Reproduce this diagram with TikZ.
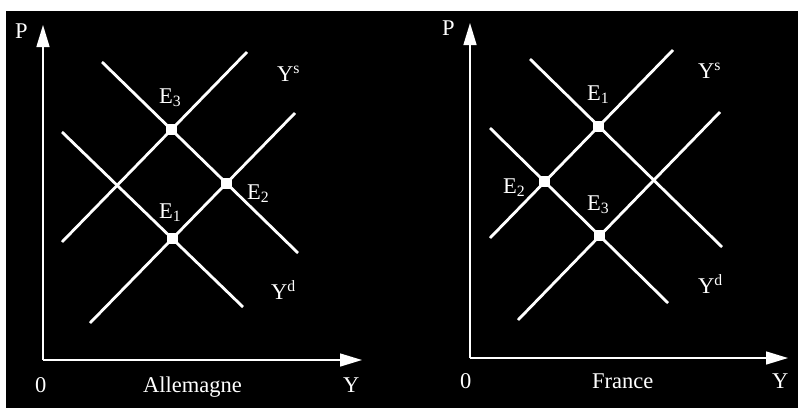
\documentclass[tikz,border=0pt]{standalone}
\usepackage{fontspec}
\setmainfont{Liberation Serif}
\usetikzlibrary{arrows.meta, intersections}

\begin{document}
\begin{tikzpicture}[
    x=1pt, y=-1pt,
    axis/.style={draw=white, line width=1.5pt, -{Triangle[length=22pt, width=13pt]}},
    curve/.style={draw=white, line width=2.8pt},
    eqpoint/.style={fill=white, rectangle, minimum size=11pt, inner sep=0pt},
    lbl/.style={text=white, font=\fontsize{22.5}{26}\selectfont, inner sep=0pt, anchor=base west}
]
\useasboundingbox (0,0) rectangle (798,408);
\fill[white] (0,0) rectangle (798,408);
\fill[black] (6,11) rectangle (798,408);

% --- Left panel: Allemagne
\coordinate (oA) at (43,360);
\coordinate (pA) at (43,25);
\coordinate (yA) at (362,360);
\draw [axis] (oA) -- (pA);
\draw [axis] (oA) -- (yA);

\draw [curve, name path=sloA] (90,323) -- (295,113);
\draw [curve, name path=shiA] (62,242) -- (247,52);
\draw [curve, name path=dloA] (62,132) -- (243,307);
\draw [curve, name path=dhiA] (102,62) -- (298,253);

\path [name intersections={of=sloA and dloA, by=e1A}];
\path [name intersections={of=sloA and dhiA, by=e2A}];
\path [name intersections={of=shiA and dhiA, by=e3A}];
\node (E1A) [eqpoint] at (e1A) {};
\node (E2A) [eqpoint] at (e2A) {};
\node (E3A) [eqpoint] at (e3A) {};

\node (lE3A) [lbl] at (159,103) {E\textsubscript{3}};
\node (lE2A) [lbl] at (247,199) {E\textsubscript{2}};
\node (lE1A) [lbl] at (159,218) {E\textsubscript{1}};
\node (lsA)  [lbl] at (277,81)  {Y\textsuperscript{s}};
\node (ldA)  [lbl] at (271,299) {Y\textsuperscript{d}};
\node (lpA)  [lbl] at (15,38)   {P};
\node (l0A)  [lbl] at (35,392)  {0};
\node (nameA)[lbl] at (143,392) {Allemagne};
\node (lyA)  [lbl] at (343,392) {Y};

% --- Right panel: France
\coordinate (oF) at (470,358);
\coordinate (pF) at (470,23);
\coordinate (yF) at (788,358);
\draw [axis] (oF) -- (pF);
\draw [axis] (oF) -- (yF);

\draw [curve, name path=sloF] (518,320) -- (720,112);
\draw [curve, name path=shiF] (490,238) -- (673,50);
\draw [curve, name path=dloF] (490,128) -- (668,303);
\draw [curve, name path=dhiF] (530,59) -- (722,247);

\path [name intersections={of=shiF and dhiF, by=e1F}];
\path [name intersections={of=shiF and dloF, by=e2F}];
\path [name intersections={of=sloF and dloF, by=e3F}];
\node (E1F) [eqpoint] at (e1F) {};
\node (E2F) [eqpoint] at (e2F) {};
\node (E3F) [eqpoint] at (e3F) {};

\node (lE1F) [lbl] at (587,100) {E\textsubscript{1}};
\node (lE2F) [lbl] at (503,193) {E\textsubscript{2}};
\node (lE3F) [lbl] at (587,210) {E\textsubscript{3}};
\node (lsF)  [lbl] at (698,78)  {Y\textsuperscript{s}};
\node (ldF)  [lbl] at (698,293) {Y\textsuperscript{d}};
\node (lpF)  [lbl] at (442,35)  {P};
\node (l0F)  [lbl] at (460,388) {0};
\node (nameF)[lbl] at (592,388) {France};
\node (lyF)  [lbl] at (772,388) {Y};

\end{tikzpicture}
\end{document}
